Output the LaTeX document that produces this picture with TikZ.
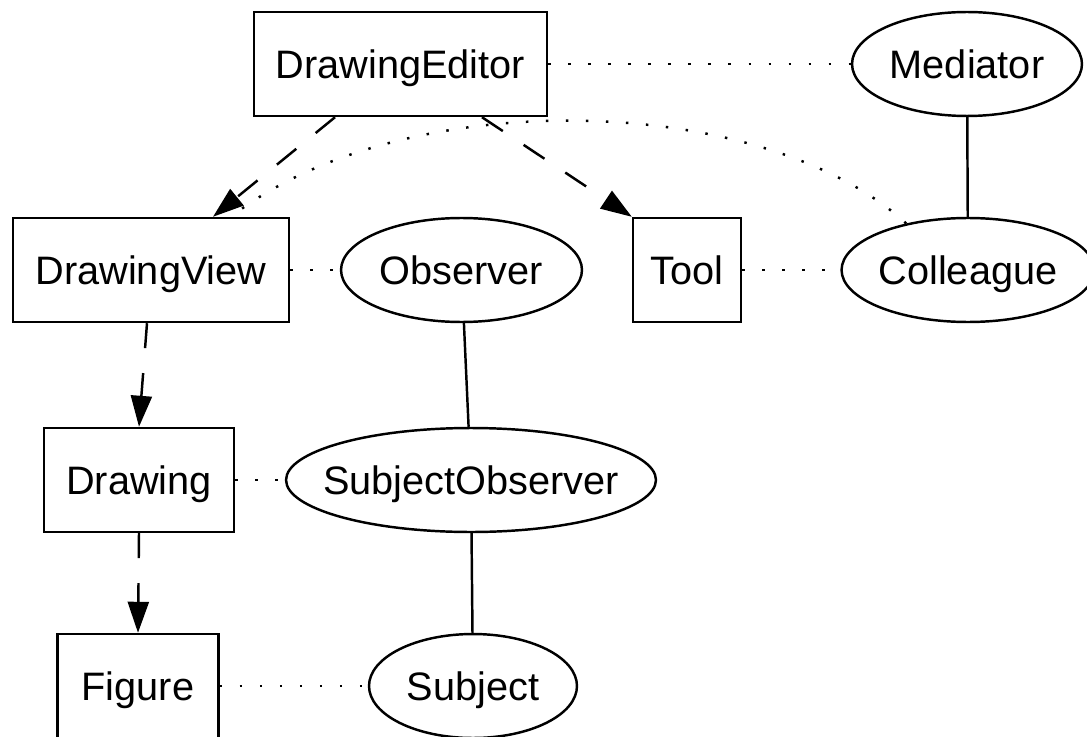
\documentclass[tikz,border=0pt]{standalone}
\usepackage{fontspec}
\setmainfont{Liberation Sans}
\usetikzlibrary{shapes.geometric,arrows.meta}

\tikzset{
	classbox/.style={draw, rectangle, line width=1.4pt, inner sep=0pt,
		minimum height=2.08cm, text height=16.3pt, text depth=0pt,
		font=\fontsize{22.6}{27}\selectfont},
	roleoval/.style={draw, ellipse, line width=1.4pt, inner sep=0pt,
		minimum height=2.08cm, text height=16.3pt, text depth=0pt,
		font=\fontsize{22.6}{27}\selectfont},
	depend/.style={->, line width=1.4pt, dash pattern=on 0.5cm off 0.5cm},
	partof/.style={line width=1.4pt, dash pattern=on 1.4pt off 10pt},
	bond/.style={line width=1.4pt},
}

\begin{document}
\begin{tikzpicture}[x=0.02cm, y=-0.02cm, >={Triangle[length=0.62cm,width=0.42cm]}]
			\useasboundingbox (0,0) rectangle (1087,736);
			%%%	Classi
			\node[classbox, minimum width=5.86cm] (editor) at (400.5,64) {DrawingEditor};
			\node[classbox, minimum width=5.52cm] (view) at (151,270) {DrawingView};
			\node[classbox, minimum width=2.16cm] (tool) at (687,270) {Tool};
			\node[classbox, minimum width=3.8cm] (drawing) at (139,480) {Drawing};
			\node[classbox, minimum width=3.22cm] (figure) at (138,686) {Figure};
			%%%	Ruoli
			\node[roleoval, minimum width=4.6cm] (mediator) at (967,64) {Mediator};
			\node[roleoval, minimum width=4.82cm] (observer) at (461.5,270) {Observer};
			\node[roleoval, minimum width=5cm] (colleague) at (968,270) {Colleague};
			\node[roleoval, minimum width=7.4cm, inner xsep=-0.35cm] (subjobs) at (471,480) {SubjectObserver};
			\node[roleoval, minimum width=4.16cm] (subject) at (473,686) {Subject};
			
			%%%	Dipendenze
			\draw[depend] ([xshift=-1.31cm]editor.south) -- ([xshift=1.24cm]view.north);
			\draw[depend] ([xshift=1.63cm]editor.south) -- (tool.north west);
			\draw[depend] ([xshift=-0.08cm]view.south) -- (drawing.north);
			\draw[depend] (drawing.south) -- (figure.north);
			
			\draw[partof] (editor) -- (mediator);
			\draw[partof] (view) -- (observer);
			\draw[partof] (tool) -- (colleague);
			\draw[partof] (drawing) -- (subjobs);
			\draw[partof] (figure) -- (subject);
			\draw[partof] (colleague.143) .. controls (760,90) and
			(400,85) .. ([xshift=1.6cm]view.north);
			
			\draw[bond] (mediator) -- (colleague);
			\draw[bond] (observer) -- (subjobs);
			\draw[bond] (subjobs) -- (subject);
		\end{tikzpicture}
\end{document}
